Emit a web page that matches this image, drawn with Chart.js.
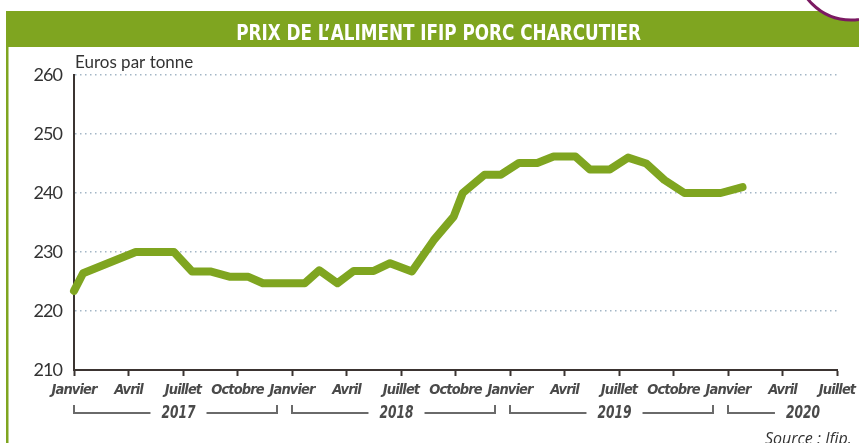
<!DOCTYPE html>
<html><head><meta charset="utf-8">
<script src="https://cdn.jsdelivr.net/npm/chart.js@4"></script>
<style>html,body{margin:0;padding:0;background:#fff;overflow:hidden}canvas{display:block}</style>
</head><body>
<canvas id="c" width="859" height="443"></canvas>
<script>
const titleText = 'PRIX DE L’ALIMENT IFIP PORC CHARCUTIER';
const unitLabel = 'Euros par tonne';
const sourceText = 'Source : Ifip.';
const tickLabels = ['Janvier','Avril','Juillet','Octobre','Janvier','Avril','Juillet','Octobre','Janvier','Avril','Juillet','Octobre','Janvier','Avril','Juillet'];
const years = ['2017','2018','2019','2020'];
// month offsets since January 2017
const monthPos = [0,0.5,3.4,5.5,6.5,7.5,8.6,9.6,10.4,12.7,13.5,14.5,15.4,16.5,17.4,18.6,19.8,20.9,21.4,22.6,23.5,24.5,25.5,26.4,27.6,28.4,29.5,30.5,31.5,32.5,33.6,35.6,36.8];
const prices = [223.4,226.4,230,230,226.7,226.7,225.8,225.8,224.7,224.7,226.9,224.7,226.8,226.8,228.1,226.7,232,236,240,243.1,243.1,245.1,245.1,246.2,246.2,244,244,246,245,242.2,240,240,241];

const GREEN = '#7fa520';
const AXIS = '#3b3431';
const COND = "'DejaVu Sans Condensed','DejaVu Sans',sans-serif";

function condensedText(ctx, text, x, y, align, sx) {
  const w = ctx.measureText(text).width * sx;
  let left = x;
  if (align === 'center') left = x - w / 2;
  else if (align === 'right') left = x - w;
  ctx.save();
  ctx.textAlign = 'left';
  ctx.translate(left, y);
  ctx.scale(sx, 1);
  ctx.fillText(text, 0, 0);
  ctx.restore();
  return w;
}

const decor = {
  id: 'decor',
  beforeDraw(chart) {
    const ctx = chart.ctx;
    ctx.save();
    ctx.fillStyle = '#fff';
    ctx.fillRect(0, 0, chart.width, chart.height);
    ctx.fillStyle = GREEN;
    ctx.fillRect(6, 11, chart.width - 6, 36);
    ctx.fillRect(6, 11, 2.5, chart.height - 11);
    ctx.beginPath();
    ctx.arc(851, -35, 55, 0, Math.PI * 2);
    ctx.fillStyle = '#fff';
    ctx.fill();
    ctx.lineWidth = 3;
    ctx.strokeStyle = '#7b1a62';
    ctx.stroke();
    // title
    ctx.fillStyle = '#fff';
    ctx.font = "bold 22px " + COND;
    ctx.textBaseline = 'alphabetic';
    condensedText(ctx, titleText, 438.5, 39.5, 'center', 0.85);
    ctx.restore();
    // tighter spacing for the axis labels drawn by Chart.js
    if ('letterSpacing' in ctx) ctx.letterSpacing = '-0.9px';
  },
  afterDraw(chart) {
    const ctx = chart.ctx;
    const xs = chart.scales.x;
    if ('letterSpacing' in ctx) ctx.letterSpacing = '0px';
    ctx.save();
    // unit label
    ctx.fillStyle = '#333';
    ctx.font = "17px Lato, 'Open Sans', sans-serif";
    ctx.textAlign = 'left';
    ctx.textBaseline = 'alphabetic';
    ctx.fillText(unitLabel, 75, 68);
    // year brackets
    ctx.font = "italic bold 17px " + COND;
    ctx.strokeStyle = '#6a6a6a';
    ctx.lineWidth = 2;
    ctx.fillStyle = '#4a4a4a';
    const sx = 0.8;
    const yLine = 413, yTop = 405, gap = 11;
    years.forEach((yr, i) => {
      const start = i * 12, end = start + 12;
      const x0 = xs.getPixelForValue(start);
      const w = ctx.measureText(yr).width * sx;
      ctx.beginPath();
      if (end <= xs.max) {
        const x1 = xs.getPixelForValue(end) - 15;
        const cx = (x0 + x1) / 2 + 3;
        ctx.moveTo(x0, yTop); ctx.lineTo(x0, yLine); ctx.lineTo(cx - w / 2 - gap, yLine);
        ctx.moveTo(cx + w / 2 + gap, yLine); ctx.lineTo(x1, yLine); ctx.lineTo(x1, yTop);
        ctx.stroke();
        condensedText(ctx, yr, cx, 418, 'center', sx);
      } else {
        const right = xs.getPixelForValue(xs.max) - 17;
        ctx.moveTo(x0, yTop); ctx.lineTo(x0, yLine); ctx.lineTo(right - w - gap, yLine);
        ctx.stroke();
        condensedText(ctx, yr, right, 418, 'right', sx);
      }
    });
    // source
    ctx.font = "italic 16px 'Open Sans', Lato, sans-serif";
    ctx.fillStyle = '#333';
    ctx.textAlign = 'left';
    ctx.fillText(sourceText, 765, 444);
    ctx.restore();
  }
};

new Chart(document.getElementById('c'), {
  type: 'line',
  data: {
    datasets: [{
      data: monthPos.map((m, i) => ({ x: m, y: prices[i] })),
      borderColor: GREEN,
      borderWidth: 8,
      pointRadius: 0,
      tension: 0,
      borderCapStyle: 'round',
      borderJoinStyle: 'round',
      fill: false,
      clip: false
    }]
  },
  options: {
    responsive: false,
    animation: false,
    devicePixelRatio: 1,
    layout: { padding: { left: 0, right: 22, top: 75, bottom: 0 } },
    plugins: {
      legend: { display: false },
      tooltip: { enabled: false },
      title: { display: false, text: titleText }
    },
    scales: {
      x: {
        type: 'linear',
        min: 0,
        max: 42,
        afterBuildTicks: s => { s.ticks = tickLabels.map((_, i) => ({ value: i * 3 })); },
        afterFit: s => { s.height = 73; s.paddingLeft = 0; s.paddingRight = 0; },
        ticks: {
          autoSkip: false, maxRotation: 0, minRotation: 0, padding: 6,
          color: '#4a4a4a',
          font: { family: COND, style: 'italic', weight: 'bold', size: 14.5 },
          callback: (v, i) => tickLabels[i]
        },
        grid: { drawOnChartArea: false, drawTicks: true, tickLength: 6, tickColor: AXIS, tickWidth: 2, color: AXIS },
        border: { color: AXIS, width: 2 }
      },
      y: {
        min: 210,
        max: 260,
        afterFit: s => { s.width = 74; s.paddingTop = 0; s.paddingBottom = 0; },
        ticks: { stepSize: 10, padding: 12, color: '#333', font: { family: "Lato, 'Open Sans', sans-serif", size: 18 } },
        grid: { color: '#a3b6c6', lineWidth: 1.5, drawTicks: false },
        border: { color: AXIS, width: 2, dash: [1.5, 3.5] }
      }
    }
  },
  plugins: [decor]
});
</script>
</body></html>
